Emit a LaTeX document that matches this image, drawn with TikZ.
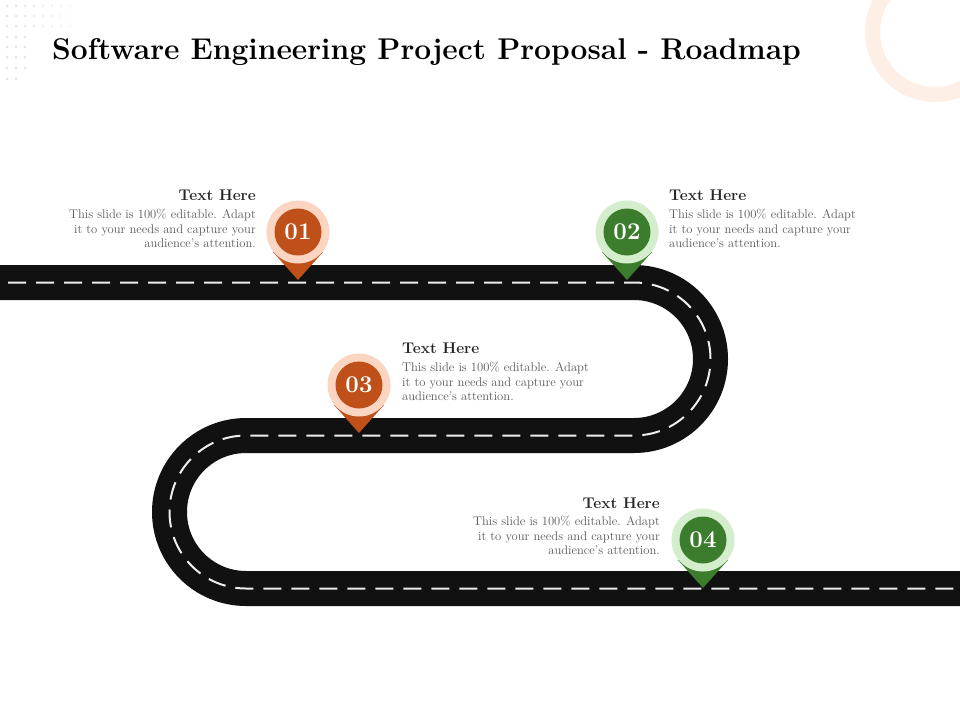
\documentclass[tikz,border=0pt]{standalone}
\usepackage{fontspec}
\definecolor{roadc}{HTML}{111111}
\definecolor{dashc}{HTML}{EDEDED}
\definecolor{orgD}{HTML}{C0501A}
\definecolor{orgL}{HTML}{F9D5C2}
\definecolor{grnD}{HTML}{3B7D2C}
\definecolor{grnL}{HTML}{D4EDCC}
\definecolor{ringc}{HTML}{FDEEE6}
\definecolor{dotc}{HTML}{E6E6E6}
\definecolor{headc}{HTML}{262626}
\definecolor{bodyc}{HTML}{5A5A5A}
\tikzset{
  road/.style={draw=roadc, line width=35pt},
  roaddash/.style={draw=dashc, line width=2pt, dash pattern=on 18pt off 10pt},
  halo/.style={circle, minimum size=63pt, inner sep=0pt},
  core/.style={circle, minimum size=47pt, inner sep=0pt, text=white, font=\fontsize{24}{26}\selectfont\bfseries},
  headtxt/.style={inner sep=0pt, text=headc, font=\fontsize{15.5}{17}\selectfont\bfseries},
  bodytxt/.style={inner sep=0pt, text=bodyc, font=\fontsize{12.6}{14.5}\selectfont},
}
\newcommand{\mappin}[6]{%
  \coordinate (#1c) at (#2,#3);
  \fill[#4] ([shift={(-25,20)}]#1c) -- ([shift={(25,20)}]#1c) -- ([shift={(0,48)}]#1c) -- cycle;
  \node[halo, fill=#5] (#1h) at (#1c) {};
  \node[core, fill=#4] (#1) at (#1c) {#6};
}
\begin{document}
\begin{tikzpicture}[x=1pt,y=-1pt]
\useasboundingbox (0,0) rectangle (960,720);
\clip (0,0) rectangle (960,720);
\fill[white] (0,0) rectangle (960,720);
% dots
\foreach \yy in {6,16,26}{
  \foreach \i in {0,...,7}{
    \pgfmathsetmacro{\op}{1-0.1*\i}
    \fill[dotc, opacity=\op] (7+9*\i,\yy) circle[radius=1.5];
  }
}
\foreach \yy in {37,47,57,68}{
  \foreach \i in {0,1,2}{
    \fill[dotc] (7+9*\i,\yy) circle[radius=1.5];
  }
}
\foreach \i in {0,1}{\fill[dotc] (7+9*\i,79) circle[radius=1.5];}
% ring
\draw[ringc, line width=15pt] (935,32) circle[radius=62.5];
% title
\node[anchor=west, inner sep=0pt, text=black, font=\fontsize{30}{36}\selectfont\bfseries] (title) at (52,52) {Software Engineering Project Proposal - Roadmap};
% road
\coordinate (r0) at (-20,282.5);
\coordinate (r1) at (634,282.5);
\coordinate (r3) at (246,435.5);
\coordinate (r5) at (980,588.5);
\path[road] (r0) -- (r1) arc[start angle=-90,end angle=90,radius=76.5] -- (r3) arc[start angle=-90,end angle=-270,radius=76.5] -- (r5);
\path[roaddash] (r0) -- (r1) arc[start angle=-90,end angle=90,radius=76.5] -- (r3) arc[start angle=-90,end angle=-270,radius=76.5] -- (r5);
% pins
\mappin{p1}{298}{232}{orgD}{orgL}{01}
\mappin{p2}{627}{232}{grnD}{grnL}{02}
\mappin{p3}{359}{385}{orgD}{orgL}{03}
\mappin{p4}{703}{540}{grnD}{grnL}{04}
% texts
\node[headtxt, anchor=east] (h1) at (256,195) {Text Here};
\node[bodytxt, anchor=north east, align=right] (b1) at (256,209) {This slide is 100\% editable. Adapt\\it to your needs and capture your\\audience's attention.};
\node[headtxt, anchor=west] (h2) at (669,195) {Text Here};
\node[bodytxt, anchor=north west, align=left] (b2) at (669,209) {This slide is 100\% editable. Adapt\\it to your needs and capture your\\audience's attention.};
\node[headtxt, anchor=west] (h3) at (402,348) {Text Here};
\node[bodytxt, anchor=north west, align=left] (b3) at (402,362) {This slide is 100\% editable. Adapt\\it to your needs and capture your\\audience's attention.};
\node[headtxt, anchor=east] (h4) at (660,503) {Text Here};
\node[bodytxt, anchor=north east, align=right] (b4) at (660,516) {This slide is 100\% editable. Adapt\\it to your needs and capture your\\audience's attention.};
\end{tikzpicture}
\end{document}
